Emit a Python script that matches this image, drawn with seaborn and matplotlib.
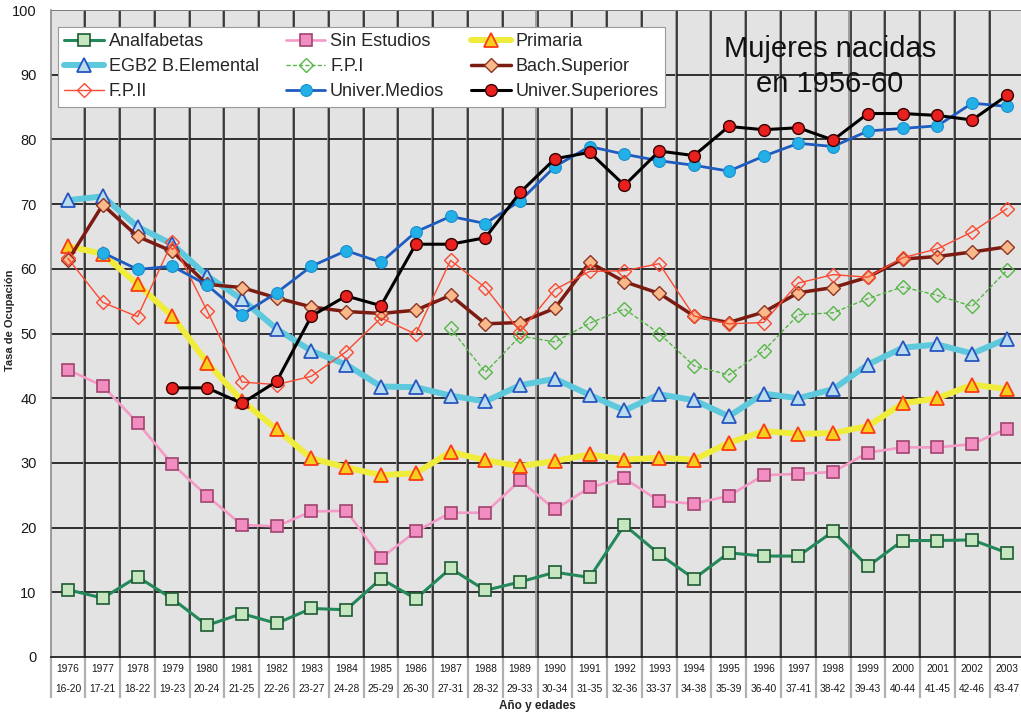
import numpy as np
import pandas as pd
import matplotlib
matplotlib.use("Agg")
import matplotlib.pyplot as plt
import seaborn as sns

years = ["1976", "1977", "1978", "1979", "1980", "1981", "1982", "1983", "1984", "1985",
         "1986", "1987", "1988", "1989", "1990", "1991", "1992", "1993", "1994", "1995",
         "1996", "1997", "1998", "1999", "2000", "2001", "2002", "2003"]
ages = ["16-20", "17-21", "18-22", "19-23", "20-24", "21-25", "22-26", "23-27", "24-28", "25-29",
        "26-30", "27-31", "28-32", "29-33", "30-34", "31-35", "32-36", "33-37", "34-38", "35-39",
        "36-40", "37-41", "38-42", "39-43", "40-44", "41-45", "42-46", "43-47"]

nan = np.nan
analfabetas = [10.4, 9.1, 12.4, 9.0, 4.9, 6.7, 5.2, 7.5, 7.3, 12.1, 9.0, 13.7, 10.3, 11.6,
               13.1, 12.3, 20.4, 15.9, 12.1, 16.1, 15.6, 15.6, 19.4, 14.0, 18.0, 18.0, 18.1, 16.1]
sin_estudios = [44.4, 41.9, 36.2, 29.8, 24.9, 20.4, 20.2, 22.5, 22.6, 15.3, 19.4, 22.3, 22.3, 27.3,
                22.8, 26.2, 27.6, 24.1, 23.7, 24.9, 28.1, 28.3, 28.6, 31.6, 32.4, 32.4, 32.9, 35.3]
primaria = [63.5, 62.3, 57.6, 52.7, 45.5, 39.6, 35.2, 30.7, 29.3, 28.1, 28.4, 31.7, 30.4, 29.5,
            30.3, 31.3, 30.5, 30.8, 30.5, 33.1, 34.9, 34.5, 34.6, 35.7, 39.2, 40.0, 42.1, 41.4]
egb2 = [70.6, 71.2, 66.5, 63.8, 58.9, 55.3, 50.7, 47.3, 45.2, 41.8, 41.7, 40.4, 39.5, 42.0,
        43.0, 40.5, 38.1, 40.6, 39.7, 37.2, 40.7, 40.0, 41.4, 45.2, 47.8, 48.3, 46.9, 49.2]
fp1 = [nan, nan, nan, nan, nan, nan, nan, nan, nan, nan, nan, 50.8, 44.0, 49.6,
       48.7, 51.6, 53.8, 50.0, 45.0, 43.6, 47.3, 52.9, 53.2, 55.4, 57.2, 55.9, 54.2, 59.8]
bach = [61.3, 69.9, 65.0, 62.7, 57.6, 57.1, 55.5, 54.1, 53.4, 53.1, 53.6, 55.9, 51.5, 51.7,
        53.9, 61.0, 58.0, 56.2, 52.7, 51.7, 53.3, 56.3, 57.1, 58.7, 61.5, 61.9, 62.6, 63.4]
fp2 = [61.6, 54.8, 52.6, 64.2, 53.5, 42.5, 42.1, 43.4, 47.2, 52.4, 49.9, 61.3, 57.1, 50.3,
       56.8, 59.6, 59.7, 60.8, 52.7, 51.5, 51.7, 57.8, 59.1, 58.7, 61.7, 63.1, 65.7, 69.3]
univ_medios = [nan, 62.5, 59.9, 60.4, 57.5, 52.9, 56.3, 60.4, 62.8, 61.0, 65.7, 68.1, 67.0, 70.5,
               75.8, 78.9, 77.7, 76.7, 76.0, 75.1, 77.4, 79.4, 78.9, 81.3, 81.7, 82.1, 85.6, 85.1]
univ_sup = [nan, nan, nan, 41.6, 41.6, 39.2, 42.6, 52.7, 55.8, 54.3, 63.8, 63.8, 64.8, 71.8,
            77.0, 78.0, 72.9, 78.2, 77.5, 82.0, 81.5, 81.8, 79.9, 84.0, 84.0, 83.7, 83.0, 86.8]

series = [
    ("Analfabetas", analfabetas, dict(color="#24895a", lw=2.2, marker="s", ms=8,
                                      mfc="#c6e6c0", mec="#1d5a33", mew=1.2)),
    ("Sin Estudios", sin_estudios, dict(color="#f49ac6", lw=1.9, marker="s", ms=8.5,
                                        mfc="#f18dc0", mec="#a1446f", mew=1.2)),
    ("Primaria", primaria, dict(color="#f0ec3c", lw=4.3, marker="^", ms=9.5,
                                mfc="#f6cf1e", mec="#fb3b12", mew=1.3)),
    ("EGB2 B.Elemental", egb2, dict(color="#5ec8dc", lw=4.3, marker="^", ms=9.5,
                                    mfc="#b9dcef", mec="#2655c0", mew=1.3)),
    ("F.P.I", fp1, dict(color="#58b648", lw=1.0, ls=(0, (3, 1.5)), marker="D", ms=7.5,
                        mfc="none", mec="#58b648", mew=1.0)),
    ("Bach.Superior", bach, dict(color="#7c1b12", lw=2.5, marker="D", ms=7.5,
                                 mfc="#f9b98a", mec="#8e3522", mew=1.0)),
    ("F.P.II", fp2, dict(color="#fb4a32", lw=1.0, marker="D", ms=7.5,
                         mfc="none", mec="#fb4a32", mew=1.0)),
    ("Univer.Medios", univ_medios, dict(color="#1f5cbf", lw=2.0, marker="o", ms=8.5,
                                        mfc="#22b0e6", mec="#1b8fd0", mew=0.8)),
    ("Univer.Superiores", univ_sup, dict(color="#000000", lw=2.2, marker="o", ms=8.5,
                                         mfc="#e8201e", mec="#3a0000", mew=1.0)),
]

sns.set_style("white")
plt.rcParams["font.family"] = ["Liberation Sans", "DejaVu Sans"]

fig = plt.figure(figsize=(10.21, 7.22), dpi=100)
ax = fig.add_axes([50.6 / 1021, 65 / 722, 973.8 / 1021, 647 / 722])
ax.set_facecolor("#e3e3e3")

x = np.arange(len(years))

# grid
for yv in range(10, 101, 10):
    ax.axhline(yv, color="#111111", lw=1.2, zorder=1)
for b in np.arange(0.5, len(years), 1.0):
    ax.axvline(b - 0.03, color="#9a9a9a", lw=1.3, zorder=1)
    ax.axvline(b, color="#1a1a1a", lw=1.1, zorder=1)

for name, vals, st in series:
    df = pd.DataFrame({"x": x, "y": vals}).dropna()
    sns.lineplot(data=df, x="x", y="y", ax=ax, label=name, estimator=None, sort=False,
                 color=st["color"], linewidth=st["lw"], linestyle=st.get("ls", "-"),
                 marker=st["marker"], markersize=st["ms"], markerfacecolor=st["mfc"],
                 markeredgecolor=st["mec"], markeredgewidth=st["mew"], zorder=3)

ax.set_xlim(-0.5, len(years) - 0.5)
ax.set_ylim(0, 100)
ax.set_yticks(range(0, 101, 10))
ax.tick_params(axis="y", length=7, color="#8c8c8c", labelsize=10.5, pad=3, labelcolor="#1a1a1a")
ax.set_xticks(x)
ax.set_xticklabels([f"{y}\n{a}" for y, a in zip(years, ages)], fontsize=7.4,
                   linespacing=2.3, color="#1a1a1a")
ax.tick_params(axis="x", length=0, pad=5)

for s in ["top", "right"]:
    ax.spines[s].set_visible(False)
ax.spines["left"].set_color("#8c8c8c")
ax.spines["left"].set_linewidth(1.2)
ax.spines["bottom"].set_color("#111111")
ax.spines["bottom"].set_linewidth(1.2)
ax.axhline(100, color="#8c8c8c", lw=1.2, zorder=1)

# separators between the x tick labels
trans = ax.get_xaxis_transform()
ax.vlines(np.arange(-0.5, len(years), 1.0), -0.063, 0, transform=trans,
          color="#b0b0b0", lw=1.6, clip_on=False)

ax.set_xlabel("Año y edades", fontsize=8.5, fontweight="bold", labelpad=4)
ax.set_ylabel("Tasa de Ocupación", fontsize=8, fontweight="bold", labelpad=10)
ax.yaxis.set_label_coords(-0.037, 0.52)

handles, labels = ax.get_legend_handles_labels()
order = [0, 3, 6, 1, 4, 7, 2, 5, 8]
leg = ax.legend([handles[i] for i in order], [labels[i] for i in order], ncol=3,
                loc="upper left", bbox_to_anchor=(0.0076, 0.974), borderaxespad=0,
                fontsize=13, frameon=True, fancybox=False, framealpha=1,
                edgecolor="#9a9a9a", handlelength=2.2, handletextpad=0.25,
                columnspacing=1.5, labelspacing=0.45, borderpad=0.35)
leg.get_frame().set_linewidth(0.8)
leg.set_zorder(5)

ax.text(0.8, 0.913, "Mujeres nacidas\nen 1956-60", transform=ax.transAxes, ha="center",
        va="center", fontsize=21, color="#111111", linespacing=1.3, zorder=4)

fig.savefig("out.png", dpi=100)
